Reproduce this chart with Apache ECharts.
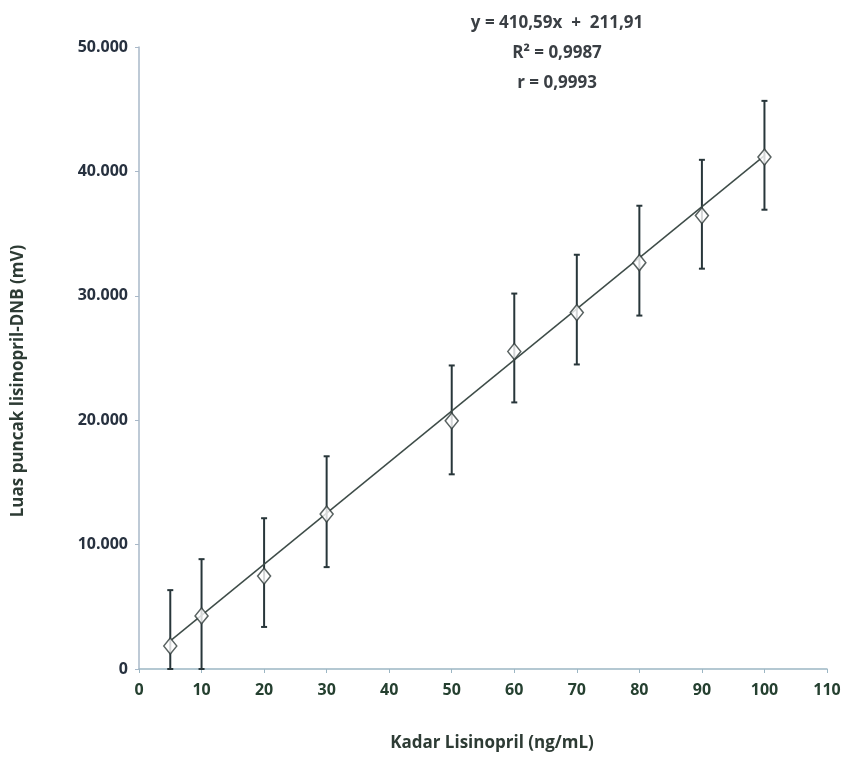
<!DOCTYPE html>
<html>
<head>
<meta charset="utf-8">
<script src="https://cdn.jsdelivr.net/npm/echarts@6/dist/echarts.min.js"></script>
<style>
  html,body{margin:0;padding:0;background:#fff}
  #chart{width:853px;height:757px}
</style>
</head>
<body>
<div id="chart"></div>
<script>
// kadar (ng/mL) dan luas puncak (mV)
const kadar=[5,10,20,30,50,60,70,80,90,100]
const luas=[1850,4270,7470,12450,19950,25520,28650,32660,36450,41150]
const errBawah=[0,0,3380,8190,15650,21430,24480,28410,32180,36920]
const errAtas=[6340,8830,12120,17100,24400,30180,33300,37240,40930,45670]
// garis regresi, ujung-ujungnya
const trenX=[5,100]
const trenY=[2265,41271]
const persamaan=['y = 410,59x  +  211,91','R\u00b2 = 0,9987','r = 0,9993']

const myChart=echarts.init(document.querySelector('#chart'))
const font='"Open Sans", sans-serif'

const option={
  animation:false,
  textStyle:{fontFamily:font},
  grid:{left:139,right:26,top:47,bottom:87},
  title:{
    text:persamaan.join('\n'),
    left:552,
    top:3,
    textAlign:'center',
    textStyle:{fontSize:17,fontWeight:'bold',color:'#3a3f44',lineHeight:30,fontFamily:font}
  },
  xAxis:{
    type:'value',min:0,max:110,interval:10,
    name:'Kadar Lisinopril (ng/mL)',
    nameLocation:'middle',nameGap:66,
    nameTextStyle:{fontSize:17,fontWeight:'bold',color:'#2d3b34',fontFamily:font,padding:[0,0,0,18]},
    axisLine:{show:true,lineStyle:{color:'#9cb6c4',width:1.5}},
    axisTick:{show:true,length:4,lineStyle:{color:'#9cb6c4'}},
    axisLabel:{fontSize:16,fontWeight:'bold',color:'#254030',margin:13,fontFamily:font},
    splitLine:{show:false}
  },
  yAxis:{
    type:'value',min:0,max:50000,interval:10000,
    name:'Luas puncak lisinopril-DNB (mV)',
    nameLocation:'middle',nameGap:112,nameRotate:90,
    nameTextStyle:{fontSize:17,fontWeight:'bold',color:'#2d3b34',fontFamily:font,padding:[0,46,0,0]},
    axisLine:{show:true,lineStyle:{color:'#a9b8c8',width:1.5}},
    axisTick:{show:true,length:4,lineStyle:{color:'#a9b8c8'}},
    axisLabel:{fontSize:16,fontWeight:'bold',color:'#27313f',margin:11,fontFamily:font,
      formatter:v=>v===0?'0':(v/1000)+'.000'},
    splitLine:{show:false}
  },
  series:[
    {
      // error bar
      type:'custom',
      z:2,
      data:kadar.map((x,i)=>[x,errBawah[i],errAtas[i]]),
      renderItem:function(params,api){
        const lo=api.coord([api.value(0),api.value(1)])
        const hi=api.coord([api.value(0),api.value(2)])
        const c=3
        const st={stroke:'#28363a',lineWidth:2}
        return {type:'group',children:[
          {type:'line',shape:{x1:lo[0],y1:lo[1],x2:hi[0],y2:hi[1]},style:st},
          {type:'line',shape:{x1:lo[0]-c,y1:lo[1],x2:lo[0]+c,y2:lo[1]},style:st},
          {type:'line',shape:{x1:hi[0]-c,y1:hi[1],x2:hi[0]+c,y2:hi[1]},style:st}
        ]}
      }
    },
    {
      // garis tren
      type:'line',
      z:3,
      data:trenX.map((x,i)=>[x,trenY[i]]),
      symbol:'none',
      lineStyle:{color:'#3e4c48',width:1.5}
    },
    {
      type:'scatter',
      z:4,
      data:kadar.map((x,i)=>[x,luas[i]]),
      symbol:'diamond',
      symbolSize:[13,16],
      itemStyle:{color:'#fff',borderColor:'#2f3b3a',borderWidth:1.5}
    }
  ]
}

myChart.setOption(option)
</script>
</body>
</html>
